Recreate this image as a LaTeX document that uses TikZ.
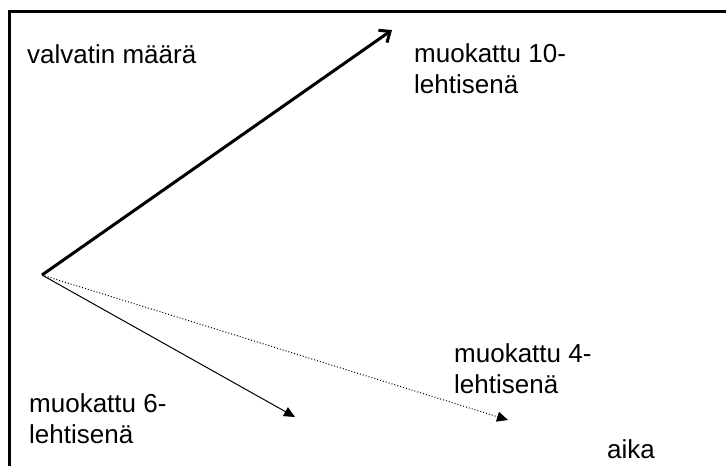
\documentclass[tikz,border=0pt]{standalone}
\usepackage{fontspec}
\setmainfont{Liberation Sans}
\usetikzlibrary{arrows.meta}

\begin{document}
\begin{tikzpicture}[x=1pt,y=-1pt,
    every node/.style={font=\fontsize{26}{31}\selectfont, inner sep=0pt, anchor=base west, align=left},
    paksu/.style={line width=3pt, -{Straight Barb[length=9pt,width=15pt,line width=3pt]}},
    ohut/.style={line width=1pt, -{Triangle[length=11pt,width=10pt]}},
    pisteet/.style={line width=1pt, dotted, -{Triangle[length=11pt,width=10pt]}}]
                \useasboundingbox (0,0) rectangle (726,466);

                % Kehys (vain ylä- ja vasen reuna näkyvät)
                \draw[line width=3pt] (9.5,466) |- (726,11.5);

                % Lähtöpiste ja nuolten kärjet
                \coordinate (alku) at (42,275);
                \coordinate (k10) at (392,30);
                \coordinate (k6) at (295,417);
                \coordinate (k4) at (508,420);

                % Tekstit (monirivisten perusviiva = viimeinen rivi)
                \node (maara) at (27,63) {valvatin määrä};
                \node (m10) at (414,93) {muokattu 10-\\lehtisenä};
                \node (m6) at (29,443) {muokattu 6-\\lehtisenä};
                \node (m4) at (454,393) {muokattu 4-\\lehtisenä};
                \node (aika) at (607,458) {aika};

                % Nuolet
                \draw[paksu] (alku) -- (k10);
                \draw[ohut] (alku) -- (k6);
                \draw[pisteet] (alku) -- (k4);
            \end{tikzpicture}
\end{document}
